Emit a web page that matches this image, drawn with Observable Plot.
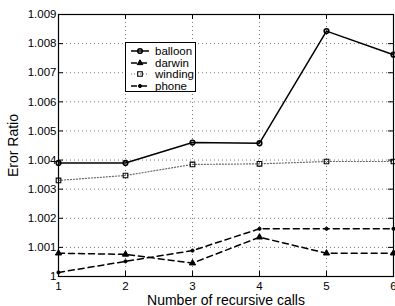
<!DOCTYPE html>
<html><head><meta charset="utf-8">
<script src="https://cdn.jsdelivr.net/npm/d3@7"></script>
<script src="https://cdn.jsdelivr.net/npm/@observablehq/plot@0.6"></script>
<style>
body{margin:0;background:#fff;}
#wrap{position:relative;width:395px;height:306px;font-family:"Liberation Sans",Arial,sans-serif;}
#legend{position:absolute;left:125px;top:42px;width:69px;height:48px;border:1.5px solid #000;background:#fff;font-size:11.5px;}
#legend .row{position:absolute;left:0;height:12px;display:flex;align-items:center;}
#legend svg{display:block}
</style>
</head><body>
<div id="wrap"></div>
<script>
const calls = [1, 2, 3, 4, 5, 6];
const balloon = [1.0039, 1.0039, 1.0046, 1.00458, 1.00843, 1.00762];
const darwin  = [1.0008, 1.00076, 1.00046, 1.00135, 1.0008, 1.0008];
const winding = [1.0033, 1.00347, 1.00385, 1.00387, 1.00395, 1.00395];
const phone   = [1.00014, 1.00052, 1.00089, 1.00164, 1.00164, 1.00164];
const seriesNames = ["balloon", "darwin", "winding", "phone"];
const xTicks = [1, 2, 3, 4, 5, 6];
const yTicks = [1, 1.001, 1.002, 1.003, 1.004, 1.005, 1.006, 1.007, 1.008, 1.009];
const yTickLabels = ["1", "1.001", "1.002", "1.003", "1.004", "1.005", "1.006", "1.007", "1.008", "1.009"];

const styles = {
  balloon: {stroke: "#000", dash: null, width: 1.5, symbol: "circle", r: 2.3, fill: "none", mstroke: 1.6},
  darwin:  {stroke: "#000", dash: "6,4", width: 1.5, symbol: "triangle", r: 2.3, fill: "#000", mstroke: 1},
  winding: {stroke: "#666", dash: "1,2", width: 1.2, symbol: "square", r: 2.6, fill: "none", mstroke: 1.1},
  phone:   {stroke: "#000", dash: "6,4", width: 1.5, symbol: "circle", r: 1.6, fill: "#000", mstroke: 1}
};
const values = {balloon, darwin, winding, phone};
const data = seriesNames.flatMap(s => calls.map((c, i) => ({series: s, x: c, y: values[s][i]})));

const font = "Liberation Sans, Arial, sans-serif";
const marks = [
  Plot.gridX(xTicks.slice(1, -1), {stroke: "#777", strokeOpacity: 1, strokeDasharray: "1,3", strokeWidth: 1}),
  Plot.gridY(yTicks.slice(1, -1), {stroke: "#777", strokeOpacity: 1, strokeDasharray: "1,3", strokeWidth: 1}),
  // inward ticks
  Plot.ruleX(xTicks, {x: d => d, y1: 1, y2: 1.00017, stroke: "#000"}),
  Plot.ruleX(xTicks, {x: d => d, y1: 1.009, y2: 1.00883, stroke: "#000"}),
  Plot.ruleY(yTicks, {y: d => d, x1: 1, x2: 1.075, stroke: "#000"}),
  Plot.ruleY(yTicks, {y: d => d, x1: 6, x2: 5.925, stroke: "#000"}),
];
for (const s of seriesNames) {
  const st = styles[s];
  const d = data.filter(v => v.series === s);
  marks.push(Plot.line(d, {x: "x", y: "y", stroke: st.stroke, strokeWidth: st.width, strokeDasharray: st.dash}));
}
for (const s of seriesNames) {
  const st = styles[s];
  const d = data.filter(v => v.series === s);
  marks.push(Plot.dot(d, {x: "x", y: "y", symbol: st.symbol, r: st.r, fill: st.fill, stroke: "#000", strokeWidth: st.mstroke}));
}
marks.push(Plot.frame({stroke: "#000", strokeWidth: 1.2}));

const chart = Plot.plot({
  width: 395, height: 306,
  marginLeft: 58, marginRight: 2, marginTop: 14, marginBottom: 30,
  style: {fontFamily: font, fontSize: "11.5px", background: "#fff", color: "#000"},
  x: {domain: [1, 6], ticks: xTicks, tickSize: 0, tickPadding: 5, tickFormat: d => String(d), label: "Number of recursive calls", labelAnchor: "center", labelArrow: "none", labelOffset: 28},
  y: {domain: [1, 1.009], ticks: yTicks, tickSize: 0, tickPadding: 2, tickFormat: d => yTickLabels[yTicks.findIndex(t => Math.abs(t - d) < 1e-9)], label: "Eror Ratio", labelAnchor: "center", labelArrow: "none", labelOffset: 50},
  marks
});
d3.select(chart).selectAll("g[aria-label='x-axis label'] text, g[aria-label='y-axis label'] text").style("font-size", "14px");
const wrap = document.getElementById("wrap");
wrap.appendChild(chart);

// legend
const legend = document.createElement("div");
legend.id = "legend";
wrap.appendChild(legend);
seriesNames.forEach((s, i) => {
  const st = styles[s];
  const row = document.createElement("div");
  row.className = "row";
  row.style.top = (2 + i * 11.6) + "px";
  const svg = d3.create("svg").attr("width", 28).attr("height", 12);
  svg.append("line").attr("x1", 5).attr("x2", 23).attr("y1", 6).attr("y2", 6)
    .attr("stroke", st.stroke).attr("stroke-width", st.width).attr("stroke-dasharray", st.dash);
  const sym = st.symbol === "circle" ? d3.symbolCircle : st.symbol === "triangle" ? d3.symbolTriangle : d3.symbolSquare;
  const area = st.symbol === "circle" ? Math.PI * st.r * st.r : st.symbol === "triangle" ? st.r * st.r * 2.6 : (st.r * 1.77) ** 2;
  svg.append("path").attr("d", d3.symbol(sym, area)()).attr("transform", "translate(14,6)")
    .attr("fill", st.fill).attr("stroke", "#000").attr("stroke-width", st.mstroke);
  row.appendChild(svg.node());
  const t = document.createElement("span");
  t.textContent = s;
  t.style.marginLeft = "1px";
  row.appendChild(t);
  legend.appendChild(row);
});
</script>
</body></html>
